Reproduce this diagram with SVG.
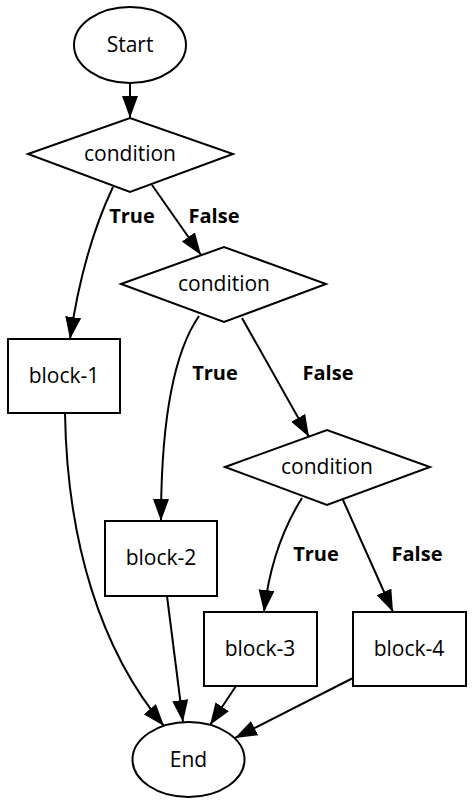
<svg xmlns="http://www.w3.org/2000/svg" width="474" height="805" viewBox="0 0 474 805">
<style>
.shape{fill:#fff;stroke:#000;stroke-width:2}
.lbl{font-family:"Open Sans","Noto Sans",sans-serif;font-size:21px;text-anchor:middle;fill:#000}
.elbl{font-family:"Open Sans","Noto Sans",sans-serif;font-size:20px;font-weight:bold;text-anchor:middle;fill:#000}
.edge{fill:none;stroke:#000;stroke-width:2;marker-end:url(#arrow)}
</style>
<defs>
<marker id="arrow" markerUnits="userSpaceOnUse" markerWidth="24" markerHeight="18" refX="22" refY="8" orient="auto">
<path d="M0,0 L22,8 L0,16 z" fill="#000"/>
</marker>
</defs>
<rect width="474" height="805" fill="#fff"/>
<g id="connectors">
<path class="edge" d="M130,83 L130,118"/>
<path class="edge" d="M113,187 C95,225 80,270 70,339"/>
<path class="edge" d="M152,185 L201,255"/>
<path class="edge" d="M199,316 C172,355 161,430 161,521"/>
<path class="edge" d="M242,318 L309,437"/>
<path class="edge" d="M302,498 C285,525 270,560 264,612"/>
<path class="edge" d="M343,500 L393,612"/>
<path class="edge" d="M65,413 C67,540 100,650 164,726"/>
<path class="edge" d="M167,596 L183,722"/>
<path class="edge" d="M236,686 L210,725"/>
<path class="edge" d="M353,678 L235,738"/>
<text class="elbl" x="132" y="223">True</text>
<text class="elbl" x="214" y="223">False</text>
<text class="elbl" x="215" y="380">True</text>
<text class="elbl" x="328" y="380">False</text>
<text class="elbl" x="316" y="561">True</text>
<text class="elbl" x="417" y="561">False</text>
</g>
<g id="start">
<ellipse class="shape" cx="130" cy="45" rx="56" ry="38"/>
<text class="lbl" x="130" y="52">Start</text>
</g>
<g id="cond1">
<polygon class="shape" points="28,154 130,118 233,154 130,192"/>
<text class="lbl" x="130" y="161">condition</text>
</g>
<g id="cond2">
<polygon class="shape" points="121,284 224,247 326,284 224,322"/>
<text class="lbl" x="224" y="291">condition</text>
</g>
<g id="cond3">
<polygon class="shape" points="225,467 327,430 430,467 327,505"/>
<text class="lbl" x="327" y="474">condition</text>
</g>
<g id="block1">
<rect class="shape" x="8" y="339" width="112" height="74"/>
<text class="lbl" x="64" y="383">block-1</text>
</g>
<g id="block2">
<rect class="shape" x="105" y="521" width="112" height="75"/>
<text class="lbl" x="161" y="565">block-2</text>
</g>
<g id="block3">
<rect class="shape" x="204" y="612" width="113" height="74"/>
<text class="lbl" x="260" y="656">block-3</text>
</g>
<g id="block4">
<rect class="shape" x="353" y="612" width="113" height="74"/>
<text class="lbl" x="409" y="656">block-4</text>
</g>
<g id="end">
<ellipse class="shape" cx="188.5" cy="759.5" rx="56" ry="37.5"/>
<text class="lbl" x="188.5" y="766.5">End</text>
</g>
</svg>
